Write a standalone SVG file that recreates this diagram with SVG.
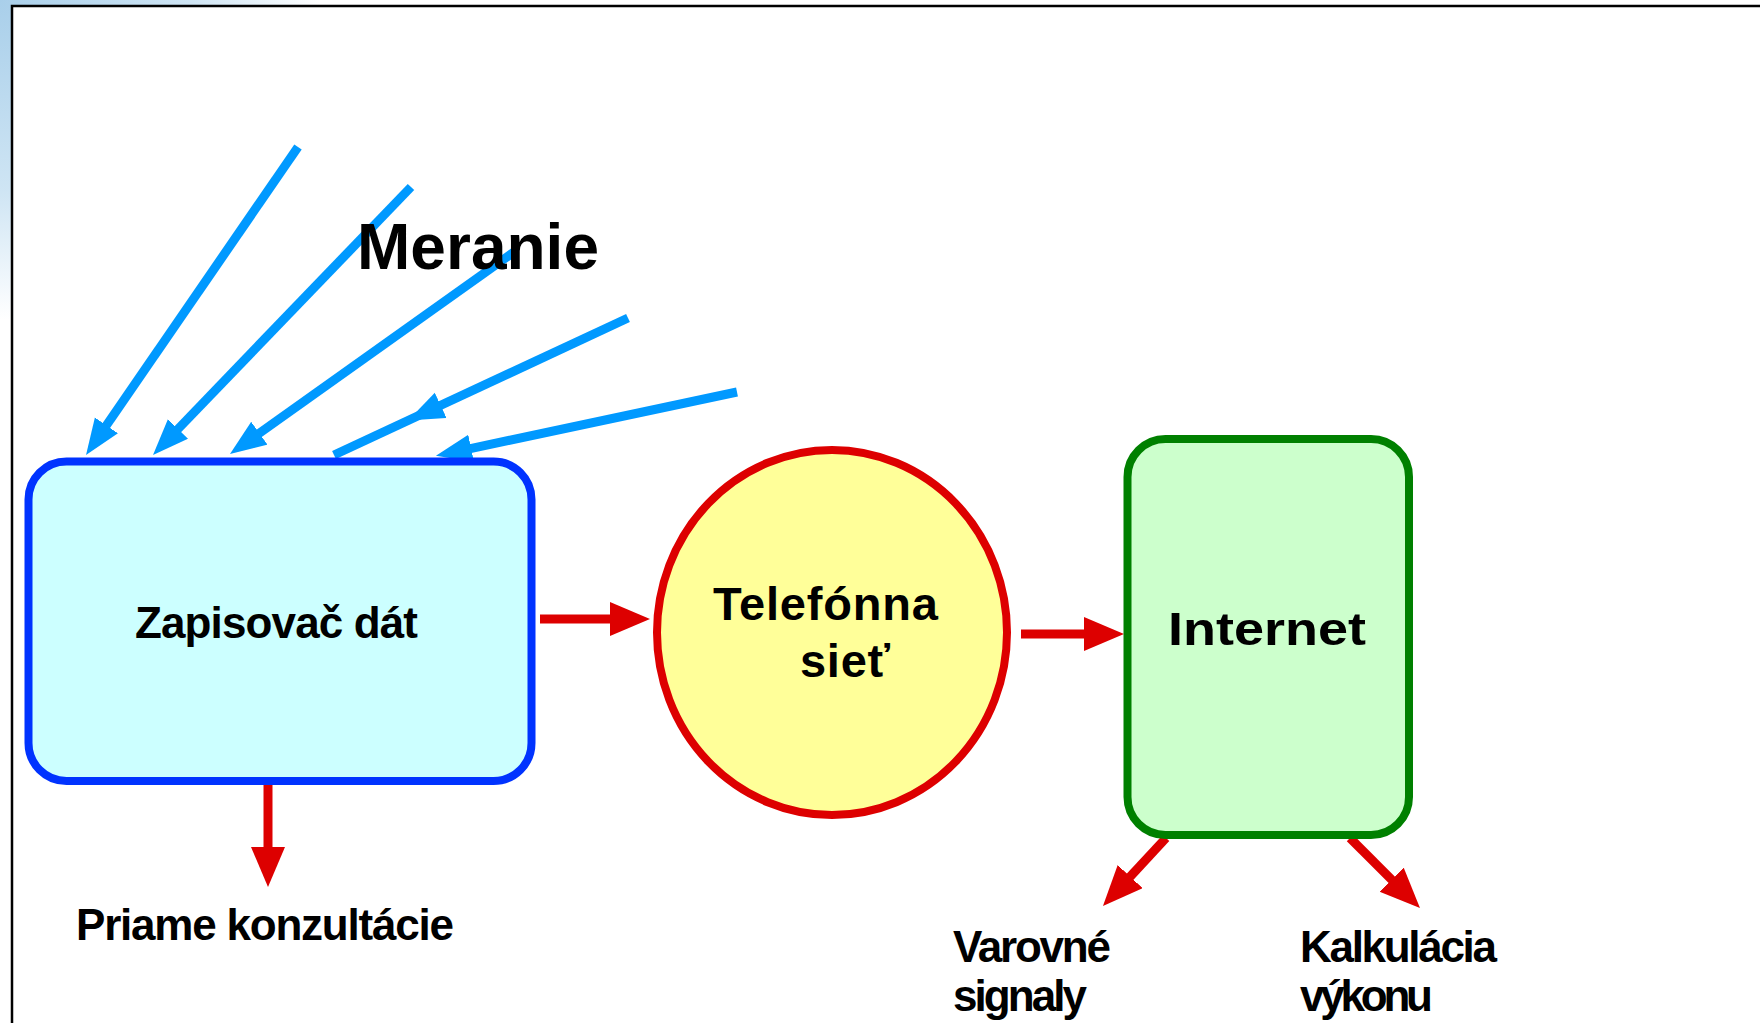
<svg xmlns="http://www.w3.org/2000/svg" width="1762" height="1023" viewBox="0 0 1762 1023">
  <defs>
    <radialGradient id="bg" cx="0" cy="0" r="320" gradientUnits="userSpaceOnUse">
      <stop offset="0" stop-color="#a9cfea"/>
      <stop offset="0.6" stop-color="#cfe5f4"/>
      <stop offset="1" stop-color="#ffffff"/>
    </radialGradient>
    <marker id="blueHead" markerUnits="userSpaceOnUse" markerWidth="40" markerHeight="30" refX="2" refY="14" orient="auto">
      <path d="M0,0 L36,14 L0,28 z" fill="#0099ff"/>
    </marker>
    <marker id="redHead" markerUnits="userSpaceOnUse" markerWidth="42" markerHeight="36" refX="2" refY="17" orient="auto">
      <path d="M0,0 L40,17 L0,34 z" fill="#dd0000"/>
    </marker>
  </defs>
  <style>
    .lbl { font-family: "Liberation Sans", Arial, sans-serif; font-weight: bold; font-size: 44px; fill: #000; }
    .big { font-size: 47px; }
    .title { font-family: "Liberation Sans", Arial, sans-serif; font-weight: bold; font-size: 64px; fill: #000; }
    .blue { stroke: #0099ff; stroke-width: 9; fill: none; marker-end: url(#blueHead); }
    .red { stroke: #dd0000; stroke-width: 9; fill: none; marker-end: url(#redHead); }
  </style>

  <rect x="0" y="0" width="1762" height="1023" fill="url(#bg)"/>
  <rect x="12" y="6" width="1750" height="1017" fill="#ffffff"/>
  <path d="M12,1023 L12,6 L1760,6" fill="none" stroke="#000" stroke-width="2.5"/>

  <g id="connectors">
    <line class="blue" x1="298" y1="147" x2="105.3" y2="427"/>
    <line class="blue" x1="411" y1="187" x2="176.6" y2="430.5"/>
    <line class="blue" x1="514" y1="252" x2="257.7" y2="434.3"/>
    <path class="blue" d="M628,318 L334,455" style="marker-end:none"/>
    <path d="M471.5,391 L438.9,406.2" fill="none" stroke="none" marker-end="url(#blueHead)"/>
    <line class="blue" x1="737" y1="392" x2="469.2" y2="448.8"/>

    <line class="red" x1="268" y1="781" x2="268" y2="849"/>
    <line class="red" x1="540" y1="619" x2="612" y2="619"/>
    <line class="red" x1="1021" y1="634" x2="1086" y2="634"/>
    <line class="red" x1="1166" y1="838" x2="1128.8" y2="878.1"/>
    <line class="red" x1="1350" y1="838" x2="1393.1" y2="881.1"/>
  </g>

  <g id="zapisovac">
    <rect x="28.5" y="461.5" width="503" height="319.5" rx="38" ry="38" fill="#ccffff" stroke="#0033ff" stroke-width="8"/>
    <text class="lbl" x="135" y="638" textLength="283">Zapisovač dát</text>
  </g>

  <g id="telefonna">
    <ellipse cx="832" cy="632.5" rx="175" ry="182.5" fill="#ffff99" stroke="#dd0000" stroke-width="8"/>
    <text class="lbl big" x="713" y="620" textLength="225">Telefónna</text>
    <text class="lbl big" x="800" y="677" textLength="90">sieť</text>
  </g>

  <g id="internet">
    <rect x="1127.5" y="439" width="281.5" height="396" rx="38" ry="38" fill="#ccffcc" stroke="#008000" stroke-width="8"/>
    <text class="lbl big" x="1168" y="645" textLength="198" lengthAdjust="spacingAndGlyphs">Internet</text>
  </g>

  <g id="meranie">
    <text class="title" x="357" y="269" textLength="242">Meranie</text>
  </g>

  <g id="priame">
    <text class="lbl" x="76" y="940" textLength="378">Priame konzultácie</text>
  </g>

  <g id="varovne">
    <text class="lbl" x="953" y="962" textLength="158">Varovné</text>
    <text class="lbl" x="953" y="1011" textLength="134">signaly</text>
  </g>

  <g id="kalkulacia">
    <text class="lbl" x="1300" y="962" textLength="197">Kalkulácia</text>
    <text class="lbl" x="1300" y="1011" textLength="133">výkonu</text>
  </g>
</svg>
